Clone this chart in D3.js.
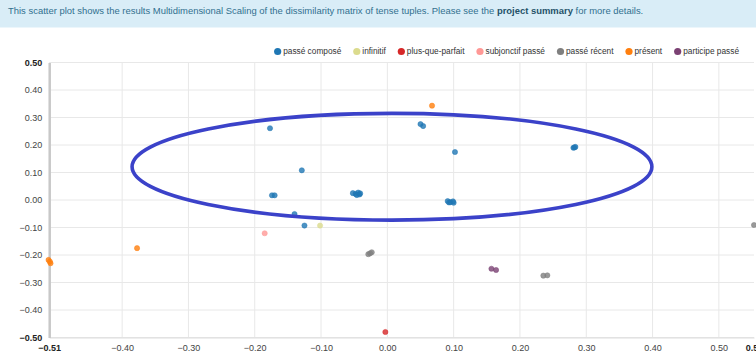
<!DOCTYPE html>
<html>
<head>
<meta charset="utf-8">
<script src="https://cdn.jsdelivr.net/npm/d3@7"></script>
<style>
  html, body { margin: 0; padding: 0; background: #fff; }
  svg { display: block; font-family: "Liberation Sans", Arial, sans-serif; }
</style>
</head>
<body>
<svg id="chart" width="756" height="355"></svg>
<script>
// Tense categories, in legend order, with their colours
const categories = ["passé composé", "infinitif", "plus-que-parfait", "subjonctif passé", "passé récent", "présent", "participe passé"];
const colors = ["#1f77b4", "#dbdb8d", "#d62728", "#ff9896", "#7f7f7f", "#ff7f0e", "#7b4173"];

// MDS coordinates [dim1, dim2] for each tense tuple, one array per category
const passeCompose = [
  [-0.177, 0.261], [-0.129, 0.108], [-0.174, 0.017], [-0.170, 0.017],
  [-0.140, -0.051], [-0.125, -0.093], [0.050, 0.276], [0.054, 0.269],
  [0.102, 0.1745], [0.2806, 0.190], [0.2836, 0.193], [0.282, 0.191],
  [-0.052, 0.025], [-0.048, 0.022], [-0.044, 0.027], [-0.042, 0.020],
  [-0.046, 0.018], [-0.041, 0.024],
  [0.091, -0.004], [0.095, -0.008], [0.099, -0.005], [0.100, -0.010], [0.093, -0.009]
];
const infinitif = [[-0.1015, -0.093]];
const plusQueParfait = [[-0.003, -0.480]];
const subjonctifPasse = [[-0.185, -0.121]];
const passeRecent = [
  [-0.0287, -0.197], [-0.0235, -0.190], [-0.026, -0.194],
  [0.2353, -0.275], [0.2413, -0.274], [0.553, -0.091]
];
const present = [
  [-0.3775, -0.175], [0.0674, 0.343],
  [-0.511, -0.218], [-0.509, -0.224], [-0.508, -0.230]
];
const participePasse = [[0.157, -0.250], [0.164, -0.2545]];

const seriesValues = [passeCompose, infinitif, plusQueParfait, subjonctifPasse, passeRecent, present, participePasse];

// Axis ticks (first and last are the data extents)
const xTicks = [-0.51, -0.40, -0.30, -0.20, -0.10, 0.00, 0.10, 0.20, 0.30, 0.40, 0.50, 0.553];
const yTicks = [-0.50, -0.40, -0.30, -0.20, -0.10, 0.00, 0.10, 0.20, 0.30, 0.40, 0.50];

// Highlight ellipse around the upper passé composé group: [cx, cy, rx, ry] in data units
const highlight = [0.007, 0.121, 0.392, 0.194];

const headerText = "This scatter plot shows the results Multidimensional Scaling of the dissimilarity matrix of tense tuples. Please see the ";
const headerBold = "project summary";
const headerTail = " for more details.";

const svg = d3.select("#chart");

// Info banner
svg.append("rect").attr("x", 0).attr("y", 0).attr("width", 756).attr("height", 27.5).attr("fill", "#d9edf7");
const ht = svg.append("text").attr("x", 8).attr("y", 14).attr("font-size", 9.45).attr("fill", "#31708f");
ht.append("tspan").text(headerText);
ht.append("tspan").attr("font-weight", "bold").attr("fill", "#245269").text(headerBold);
ht.append("tspan").text(headerTail);

const x = d3.scaleLinear().domain([xTicks[0], xTicks[xTicks.length - 1]]).range([49.2, 754]);
const y = d3.scaleLinear().domain([-0.5, 0.5]).range([337.5, 62.5]);

const fmt = d3.format(".2f");
const g = svg.append("g");

// Grid
g.append("g").selectAll("line").data(xTicks.slice(1, -1)).join("line")
  .attr("x1", d => x(d)).attr("x2", d => x(d)).attr("y1", y(0.5)).attr("y2", y(-0.5))
  .attr("stroke", "#e8e8e8").attr("stroke-width", 1);
g.append("g").selectAll("line").data(yTicks).join("line")
  .attr("x1", x.range()[0]).attr("x2", x.range()[1]).attr("y1", d => y(d)).attr("y2", d => y(d))
  .attr("stroke", "#e8e8e8").attr("stroke-width", 1);

// Axes
const xAxis = d3.axisBottom(x).tickValues(xTicks).tickFormat(fmt).tickSize(0).tickPadding(7);
const yAxis = d3.axisLeft(y).tickValues(yTicks).tickFormat(fmt).tickSize(0).tickPadding(7);

const isEnd = (i, n) => i === 0 || i === n - 1;

const gx = g.append("g").attr("transform", `translate(0,${y(-0.5)})`).call(xAxis);
gx.select(".domain").attr("stroke", "#ddd");
gx.selectAll("text").attr("font-size", 9).attr("font-family", "Liberation Sans, Arial, sans-serif")
  .attr("font-weight", (d, i) => isEnd(i, xTicks.length) ? "bold" : "normal")
  .attr("fill", (d, i) => isEnd(i, xTicks.length) ? "#222" : "#444");

const gy = g.append("g").attr("transform", `translate(${x.range()[0]},0)`).call(yAxis);
gy.select(".domain").attr("stroke", "#c8c8c8").attr("stroke-width", 2.5);
gy.selectAll("text").attr("font-size", 9).attr("font-family", "Liberation Sans, Arial, sans-serif")
  .attr("font-weight", (d, i) => isEnd(i, yTicks.length) ? "bold" : "normal")
  .attr("fill", (d, i) => isEnd(i, yTicks.length) ? "#222" : "#444");

// Points
seriesValues.forEach((pts, si) => {
  g.append("g").selectAll("circle").data(pts).join("circle")
    .attr("cx", d => x(d[0])).attr("cy", d => y(d[1])).attr("r", 2.6)
    .attr("fill", colors[si]).attr("fill-opacity", 0.8)
    .attr("stroke", colors[si]).attr("stroke-opacity", 0.6).attr("stroke-width", 0.8);
});

// Highlight ellipse
g.append("ellipse")
  .attr("cx", x(highlight[0])).attr("cy", y(highlight[1]))
  .attr("rx", x(highlight[2]) - x(0)).attr("ry", y(0) - y(highlight[3]))
  .attr("fill", "none").attr("stroke", "#3b42c9").attr("stroke-width", 3.6);

// Legend, right aligned
const legend = svg.append("g").attr("transform", "translate(0,51.5)");
const items = legend.selectAll("g").data(categories).join("g");
items.append("circle").attr("r", 3.6).attr("fill", (d, i) => colors[i]);
items.append("text").attr("x", 5.5).attr("dy", "0.35em").attr("font-size", 8.3).attr("fill", "#333").text(d => d);
const widths = [];
items.select("text").each(function () { widths.push(this.getComputedTextLength()); });
const gap = 15.5;
const total = d3.sum(widths, w => 5.5 + w) + gap * (widths.length - 1);
let cx = 739 - total;
items.each(function (d, i) {
  d3.select(this).attr("transform", `translate(${cx},0)`);
  cx += 5.5 + widths[i] + gap;
});
</script>
</body>
</html>
